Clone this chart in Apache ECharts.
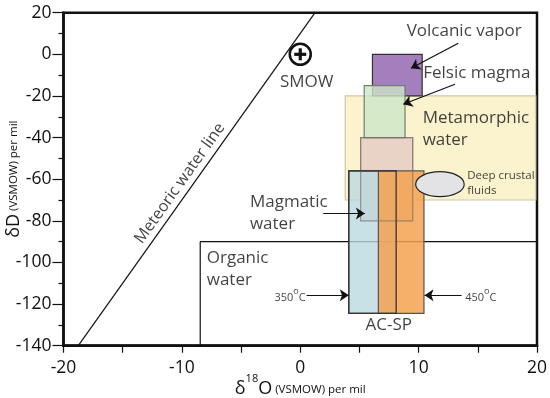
<!DOCTYPE html>
<html><head><meta charset="utf-8">
<script src="https://cdn.jsdelivr.net/npm/echarts@6/dist/echarts.min.js"></script>
<style>html,body{margin:0;padding:0;background:#fff}#c{width:550px;height:398px}</style>
</head><body><div id="c"></div>
<script>
// ---- data ----
const xTicks = [-20, -10, 0, 10, 20];
const yTicks = [-140, -120, -100, -80, -60, -40, -20, 0, 20];
const meteoricLine = [[-18.75, -140], [1.25, 20]];
const organicLine = [[20, -90], [-8.45, -90], [-8.45, -140]];
const smow = [0, 0];
// boxes: [x0, x1, y0, y1]
const boxNames = ['Metamorphic water', 'Magmatic water', 'Volcanic vapor', 'Felsic magma', 'AC-SP 350', 'AC-SP 450'];
const boxX0 = [3.8, 5.1, 6.1, 5.4, 4.1, 6.6];
const boxX1 = [19.9, 9.5, 10.3, 8.85, 8.1, 10.45];
const boxY0 = [-70, -80, -20, -40, -124.5, -124.5];
const boxY1 = [-20, -40, 0, -15, -56, -56];
const ellipseCenter = [11.8, -62.4];
const ellipseSize = [4.1, 12];
const arrows = [
  [[13.35, 5.3], [9.35, -6.7]],
  [[13.07, -14.4], [8.7, -24]],
  [[1.94, -76.5], [5.46, -76.5]],
  [[0.54, -115.7], [4.1, -115.7]],
  [[13.63, -115.8], [10.5, -115.8]]
];
const labelText = ['Volcanic vapor', 'Felsic magma', 'Metamorphic\nwater', 'Magmatic\nwater', 'Organic\nwater'];
const labelPos = [[8.99, 11.3], [10.39, -9.1], [10.34, -35.8], [-4.25, -76.5], [-7.9, -103]];

// ---- styles ----
const boxFill = ['#faf3cd', '#e8d3c6', '#a47fbd', 'rgba(205,230,200,0.8)', 'rgba(186,218,225,0.8)', 'rgba(243,162,80,0.85)'];
const boxStroke = ['#cfc6a6', '#a8948a', '#333', '#6f7f6c', '#333', '#555'];
const boxOrder = [0, 1, 2, 3, 4, 5];
const FONT = 'Open Sans';

const chart = echarts.init(document.getElementById('c'), null, {renderer: 'canvas'});

function rectFrom(api, i) {
  const p0 = api.coord([boxX0[i], boxY1[i]]);
  const p1 = api.coord([boxX1[i], boxY0[i]]);
  return {x: p0[0], y: p0[1], width: p1[0] - p0[0], height: p1[1] - p0[1]};
}

chart.setOption({
  animation: false,
  textStyle: {fontFamily: FONT},
  grid: {left: 63.5, right: 13, top: 12.7, bottom: 52.3, containLabel: false, outerBoundsMode: 'none',
    show: true, borderColor: '#111', borderWidth: 2.5, backgroundColor: 'transparent'},
  xAxis: {
    type: 'value', min: -20, max: 20, interval: 10,
    axisLine: {show: true, onZero: false, lineStyle: {color: '#111', width: 2.5}},
    axisTick: {show: true, length: 7, lineStyle: {color: '#111', width: 1.2}},
    minorTick: {show: true, splitNumber: 2, length: 7, lineStyle: {color: '#111', width: 1.2}},
    splitLine: {show: false},
    axisLabel: {fontSize: 17.5, color: '#111', margin: 13, fontFamily: FONT},
    name: '{b|δ}{sup|18}{b|O}{s|(VSMOW) per mil}',
    nameLocation: 'middle', nameGap: 28, nameMoveOverlap: false,
    nameTextStyle: {
      rich: {
        b: {fontSize: 18, color: '#111', fontFamily: FONT, verticalAlign: 'bottom'},
        sup: {fontSize: 11, color: '#111', fontFamily: FONT, padding: [0, 0, 13, 0], verticalAlign: 'bottom'},
        s: {fontSize: 11.5, color: '#111', fontFamily: FONT, padding: [0, 0, 2, 3], verticalAlign: 'bottom'}
      }
    }
  },
  yAxis: {
    type: 'value', min: -140, max: 20, interval: 20,
    axisLine: {show: true, onZero: false, lineStyle: {color: '#111', width: 2.5}},
    axisTick: {show: true, length: 11, lineStyle: {color: '#111', width: 1.2}},
    minorTick: {show: true, splitNumber: 2, length: 5, lineStyle: {color: '#111', width: 1.2}},
    splitLine: {show: false},
    axisLabel: {fontSize: 17.5, color: '#111', margin: 12, fontFamily: FONT},
    name: '{b|δD}{s| (VSMOW) per mil}',
    nameLocation: 'middle', nameGap: 41, nameMoveOverlap: false,
    nameTextStyle: {
      rich: {
        b: {fontSize: 18, color: '#111', fontFamily: FONT},
        s: {fontSize: 11.5, color: '#111', fontFamily: FONT}
      }
    }
  },
  series: [
    {
      type: 'line', data: meteoricLine, symbol: 'none', z: 2,
      lineStyle: {color: '#111', width: 1.2}
    },
    {
      type: 'line', data: organicLine, symbol: 'none', z: 2,
      lineStyle: {color: '#111', width: 1.2}
    },
    {
      type: 'custom', z: 3,
      data: boxOrder.map(i => [boxX0[i], boxX1[i], boxY0[i], boxY1[i], i]),
      encode: {x: [0, 1], y: [2, 3]},
      renderItem: (params, api) => {
        const i = api.value(4);
        return {type: 'rect', shape: rectFrom(api, i), style: {fill: boxFill[i], stroke: boxStroke[i], lineWidth: 1.2}};
      }
    },
    {
      // outlines redrawn on top
      type: 'custom', z: 4,
      data: [1, 4].map(i => [boxX0[i], boxX1[i], boxY0[i], boxY1[i], i]),
      encode: {x: [0, 1], y: [2, 3]},
      renderItem: (params, api) => {
        const i = api.value(4);
        return {type: 'rect', shape: rectFrom(api, i), style: {fill: 'none', stroke: i === 1 ? 'rgba(120,110,110,0.6)' : '#333', lineWidth: 1.2}};
      }
    },
    {
      type: 'custom', z: 5,
      data: [[ellipseCenter[0], ellipseCenter[1], ellipseSize[0], ellipseSize[1]]],
      renderItem: (params, api) => {
        const c = api.coord([api.value(0), api.value(1)]);
        const s = api.size([api.value(2), api.value(3)]);
        return {type: 'ellipse', shape: {cx: c[0], cy: c[1], rx: s[0] / 2, ry: s[1] / 2}, style: {fill: '#e3e3e6', stroke: '#222', lineWidth: 1.2}};
      }
    },
    {
      type: 'custom', z: 5,
      data: [smow],
      renderItem: (params, api) => {
        const c = api.coord([api.value(0), api.value(1)]);
        return {type: 'group', children: [
          {type: 'circle', shape: {cx: c[0], cy: c[1], r: 10.5}, style: {fill: '#fff', stroke: '#111', lineWidth: 2.5}},
          {type: 'rect', shape: {x: c[0] - 6, y: c[1] - 1.6, width: 12, height: 3.2}, style: {fill: '#111'}},
          {type: 'rect', shape: {x: c[0] - 1.6, y: c[1] - 6, width: 3.2, height: 12}, style: {fill: '#111'}}
        ]};
      }
    },
    {
      type: 'lines', coordinateSystem: 'cartesian2d', z: 6,
      symbol: ['none', 'arrow'], symbolSize: [7, 9],
      lineStyle: {color: '#111', width: 1.2, opacity: 1},
      data: arrows.map(a => ({coords: a}))
    },
    {
      type: 'scatter', symbolSize: 0, z: 7, silent: true,
      data: labelText.map((t, i) => ({value: labelPos[i], name: t})),
      label: {show: true, position: 'right', distance: 0, formatter: p => p.name, fontSize: 17, lineHeight: 22, color: '#111', fontFamily: FONT}
    },
    {
      type: 'scatter', symbolSize: 0, z: 7, silent: true,
      data: [{value: [14.1, -62], name: 'Deep crustal\nfluids'}],
      label: {show: true, position: 'right', distance: 0, formatter: p => p.name, fontSize: 11.5, lineHeight: 15, color: '#111', fontFamily: FONT}
    },
    {
      type: 'scatter', symbolSize: 0, z: 7, silent: true,
      data: [{value: [7.48, -130.1], name: 'AC-SP'}, {value: [0.54, -13.2], name: 'SMOW'}],
      label: {show: true, position: 'inside', formatter: p => p.name, fontSize: 17, color: '#111', fontFamily: FONT}
    },
    {
      type: 'scatter', symbolSize: 0, z: 7, silent: true,
      data: [{value: [-10.16, -62], name: 'Meteoric water line'}],
      label: {show: true, position: 'inside', rotate: 54.6, formatter: p => p.name, fontSize: 16, color: '#111', fontFamily: FONT}
    },
    {
      type: 'scatter', symbolSize: 0, z: 7, silent: true,
      data: [{value: [0.54, -115.7], name: '350'}],
      label: {show: true, position: 'left', distance: 1, formatter: '{a|350}{s|o}{a|C}', color: '#111',
        rich: {a: {fontSize: 11, fontFamily: FONT, verticalAlign: 'bottom'}, s: {fontSize: 9, fontFamily: FONT, padding: [0, 0, 7, 0], verticalAlign: 'bottom'}}}
    },
    {
      type: 'scatter', symbolSize: 0, z: 7, silent: true,
      data: [{value: [13.85, -115.8], name: '450'}],
      label: {show: true, position: 'right', distance: 1, formatter: '{a|450}{s|o}{a|C}', color: '#111',
        rich: {a: {fontSize: 11, fontFamily: FONT, verticalAlign: 'bottom'}, s: {fontSize: 9, fontFamily: FONT, padding: [0, 0, 7, 0], verticalAlign: 'bottom'}}}
    }
  ]
});
</script>
</body></html>
